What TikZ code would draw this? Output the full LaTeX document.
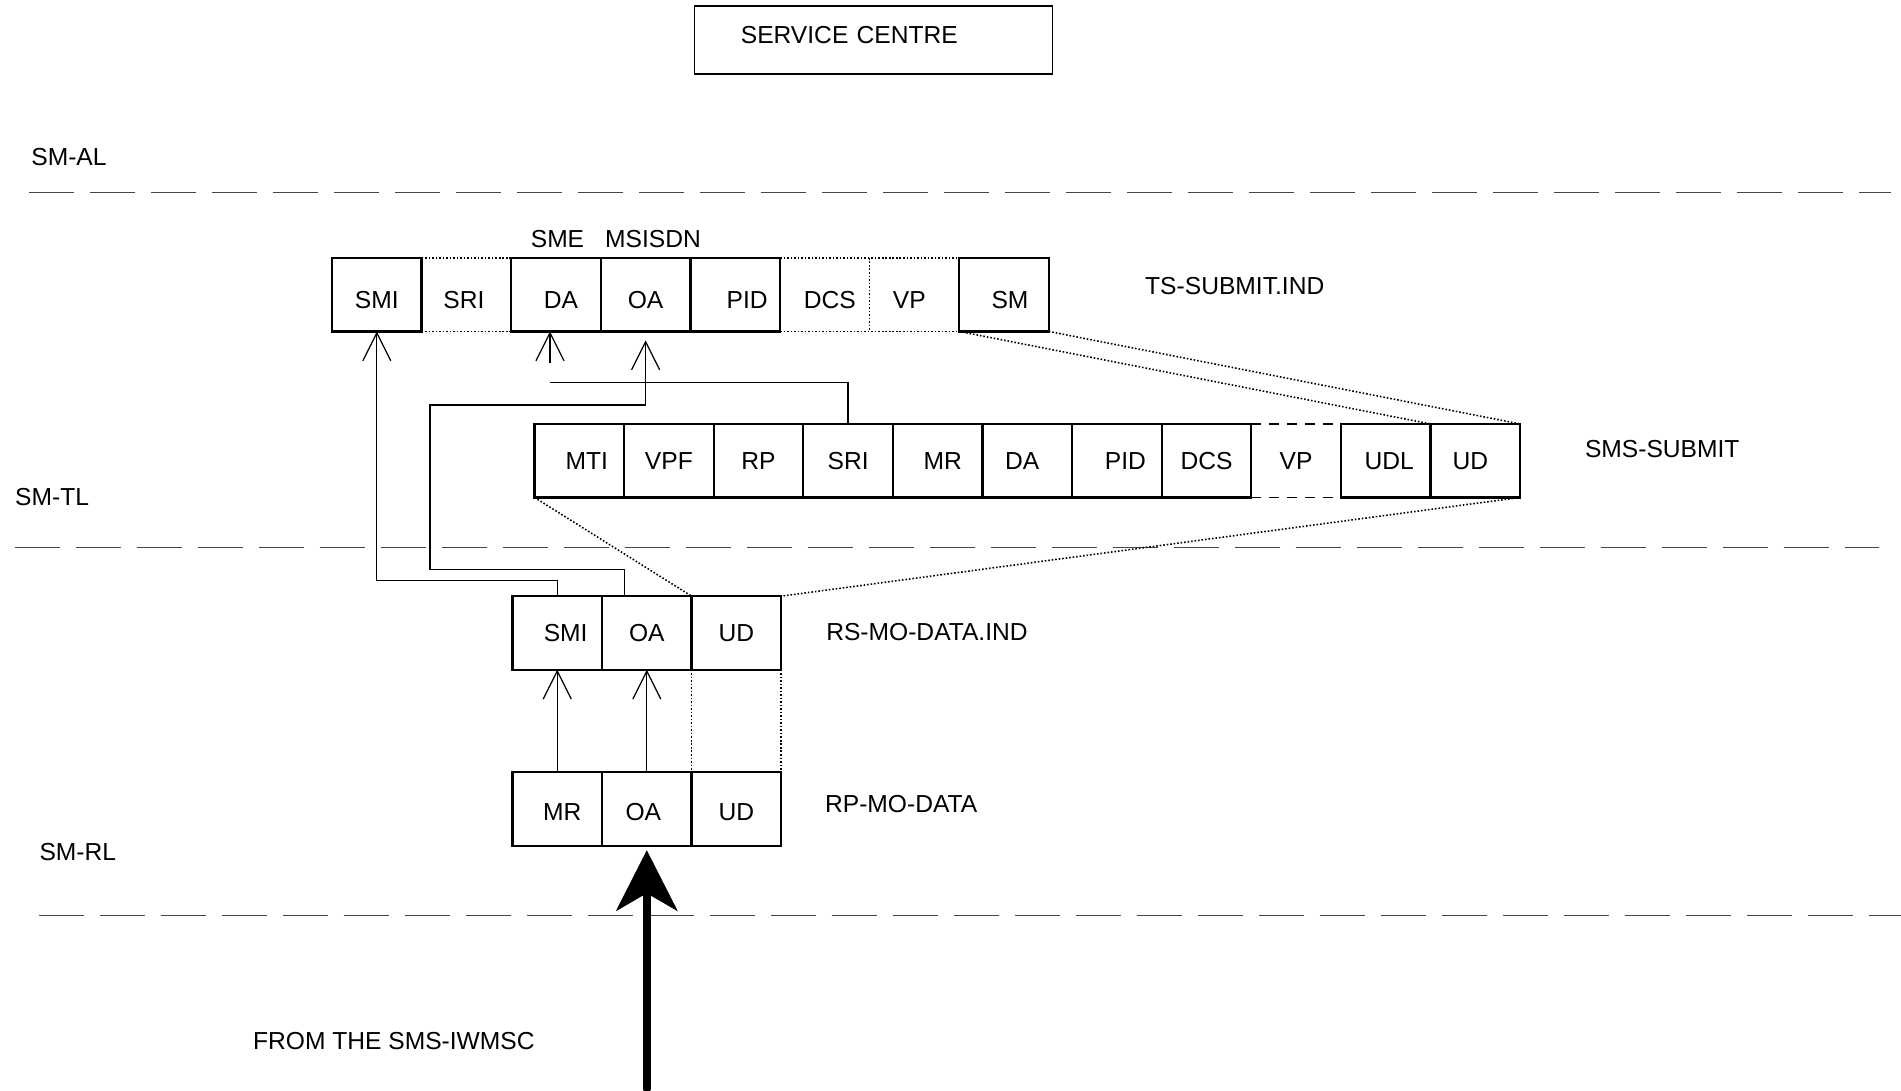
\documentclass[tikz,border=0pt]{standalone}
\usepackage{fontspec}
\setmainfont{Liberation Sans}
\usepackage{xcolor}
\definecolor{LayerGray}{RGB}{70,70,70}
\usetikzlibrary{arrows.meta}

\begin{document}
\begin{tikzpicture}[
  font=\fontsize{7pt}{8.4pt}\selectfont,
  field/.style={
    draw, line width=0.65pt,
    minimum width=0.896cm,
    minimum height=0.735cm,
    inner sep=0pt, outer sep=0pt},
  blank/.style={field, draw=none},
  nudge/.style={execute at begin node={\hspace*{#1}}},
  low/.style={text height=#1},
  caption/.style={anchor=west, inner sep=0pt},
  sepline/.style={
    draw=LayerGray, line width=0.45pt,
    dash pattern=on 0.45cm off 0.16cm},
  link/.style={line width=0.35pt},
  barb/.style={link,
    -{Straight Barb[length=2.8mm, width=2.8mm]}},
  dots/.style={line width=0.45pt,
    dash pattern=on 0.45pt off 0.55pt},
  dashes/.style={line width=0.5pt,
    dash pattern=on 1mm off 0.8mm},
  bigarrow/.style={
    -{Stealth[length=6.1mm, width=6.2mm, inset=1.8mm, line width=0.2pt]},
    line width=2.3pt, line cap=round}
]
\useasboundingbox (0,0) rectangle (19.01,-10.91);

\node[draw, line width=0.4pt,
  minimum width=3.577cm, minimum height=0.679cm,
  text width=2.655cm, inner xsep=0.461cm,
  align=left, text depth=0.96mm] (sc) at (8.736,-0.40)
  {SERVICE CENTRE};

% protocol layers
\node[caption] (smal) at (0.307,-1.569) {SM-AL};
\node[caption] (smtl) at (0.145,-4.970) {SM-TL};
\node[caption] (smrl) at (0.388,-8.523) {SM-RL};
\draw[sepline] (0.293,-1.923) -- (18.91,-1.923);
\draw[sepline] (0.145,-5.477) -- (18.79,-5.477);
\draw[sepline] (0.388,-9.157) -- (19.01,-9.157);

% TS-SUBMIT.IND
\begin{scope}[every node/.append style={low=0.277cm}]
\node[field] (tsSMI) at (3.768,-2.947) {SMI};
\node[blank, nudge=-0.05cm] (tsSRI) at (4.664,-2.947) {SRI};
\node[field, nudge=0.1cm] (tsDA)  at (5.560,-2.947) {DA};
\node[field] (tsOA)  at (6.456,-2.947) {OA};
\node[field, nudge=0.24cm] (tsPID) at (7.352,-2.947) {PID};
\node[blank, nudge=0.1cm] (tsDCS) at (8.248,-2.947) {DCS};
\node[blank, nudge=-0.1cm] (tsVP)  at (9.144,-2.947) {VP};
\node[field, nudge=0.12cm] (tsSM)  at (10.040,-2.947) {SM};
\end{scope}
\draw[dots] (tsSMI.north east) -- (tsDA.north west)
  (tsSMI.south east) -- (tsDA.south west);
\draw[dots] (tsPID.north east) -- (tsSM.north west)
  (tsPID.south east) -- (tsSM.south west);
\draw[dots] (tsDCS.north east) -- (tsDCS.south east);
\node[inner sep=0pt] (sme) at (5.575,-2.39) {SME};
\node[inner sep=0pt] (msisdn) at (6.530,-2.39) {MSISDN};
\node[caption] (tslbl) at (11.445,-2.861) {TS-SUBMIT.IND};

% SMS-SUBMIT
\node[field, nudge=0.15cm] (ssMTI) at (5.793,-4.607) {MTI};
\node[field] (ssVPF) at (6.689,-4.607) {VPF};
\node[field] (ssRP)  at (7.585,-4.607) {RP};
\node[field] (ssSRI) at (8.481,-4.607) {SRI};
\node[field, nudge=0.1cm] (ssMR)  at (9.377,-4.607) {MR};
\node[field, nudge=-0.1cm] (ssDA)  at (10.273,-4.607) {DA};
\node[field, nudge=0.17cm] (ssPID) at (11.169,-4.607) {PID};
\node[field] (ssDCS) at (12.065,-4.607) {DCS};
\node[blank] (ssVP)  at (12.961,-4.607) {VP};
\node[field, nudge=0.07cm] (ssUDL) at (13.857,-4.607) {UDL};
\node[field, nudge=-0.1cm] (ssUD)  at (14.753,-4.607) {UD};
\draw[dashes] (ssDCS.north east) -- (ssUDL.north west)
  (ssDCS.south east) -- (ssUDL.south west);
\node[caption] (sslbl) at (15.843,-4.487) {SMS-SUBMIT};

% RS-MO-DATA.IND
\node[field, nudge=0.17cm] (rsSMI) at (5.572,-6.329) {SMI};
\node[field] (rsOA)  at (6.468,-6.329) {OA};
\node[field] (rsUD)  at (7.364,-6.329) {UD};
\node[caption] (rslbl) at (8.256,-6.317) {RS-MO-DATA.IND};

% RP-MO-DATA
\node[field, nudge=0.1cm, low=0.23cm] (rpMR) at (5.572,-8.090) {MR};
\node[field, nudge=-0.07cm, low=0.23cm] (rpOA) at (6.468,-8.090) {OA};
\node[field, low=0.23cm] (rpUD) at (7.364,-8.090) {UD};
\node[caption] (rplbl) at (8.244,-8.038) {RP-MO-DATA};

\node[caption] (from) at (2.524,-10.415) {FROM THE SMS-IWMSC};

% mappings
\draw[dots] (tsSM.south west) -- (ssUD.north west);
\draw[dots] (tsSM.south east) -- (ssUD.north east);
\draw[dots] (ssMTI.south west) -- (rsUD.north west);
\draw[dots] (ssUD.south east) -- (rsUD.north east);
\draw[dots] (rsUD.south west) -- (rpUD.north west);
\draw[dots] (rsUD.south east) -- (rpUD.north east);

\draw[barb] (rpMR.north) -- (rsSMI.south);
\draw[barb] (rpOA.north) -- (rsOA.south);
\draw[barb] (rsSMI.north) -- ++(0,0.158) -| (tsSMI.south);
\draw[barb] ([xshift=-0.22cm]rsOA.north) -- ++(0,0.27)
  -| (4.30,-4.05) -| ([yshift=-0.9mm]tsOA.south);
\coordinate (daFoot) at (5.50,-3.823);
\draw[link] (ssSRI.north) |- (daFoot);
\draw[barb] (daFoot) ++(0,0.196) -- (daFoot |- tsDA.south);

\coordinate (iwmsc) at (6.468,-10.89);
\draw[bigarrow, shorten >=0.45mm] (iwmsc) -- (rpOA.south);
\end{tikzpicture}
\end{document}
